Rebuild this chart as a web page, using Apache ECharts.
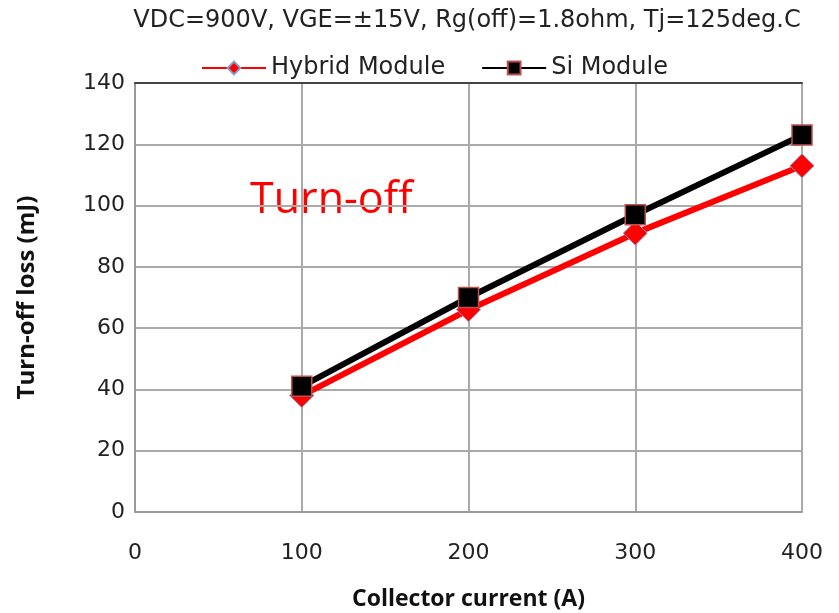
<!DOCTYPE html>
<html>
<head>
<meta charset="utf-8">
<script src="https://cdn.jsdelivr.net/npm/echarts@6/dist/echarts.min.js"></script>
<style>
  html, body { margin: 0; padding: 0; background: #fff; }
  #chart { width: 839px; height: 613px; }
</style>
</head>
<body>
<div id="chart"></div>
<script>
// collector current (A)
var currents = [100, 200, 300, 400];
// turn-off loss (mJ)
var hybridLoss = [38, 66, 91, 113];
var siLoss = [41, 70, 97, 123];
var xTicks = [0, 100, 200, 300, 400];
var yTicks = [0, 20, 40, 60, 80, 100, 120, 140];

var chartDom = document.getElementById('chart');
var myChart = echarts.init(chartDom);
var tickFont = 'DejaVu Sans';

function pairs(xs, ys) {
    return xs.map(function (x, i) { return [x, ys[i]]; });
}

var option = {
    animation: false,
    backgroundColor: '#fff',
    title: {
        text: 'VDC=900V, VGE=\u00b115V, Rg(off)=1.8ohm, Tj=125deg.C',
        left: 462,
        textAlign: 'center',
        top: 4,
        textStyle: { fontFamily: tickFont, fontSize: 24, fontWeight: 'normal', color: '#222' }
    },
    legend: {
        top: 51,
        left: 196,
        itemWidth: 64,
        itemHeight: 16,
        itemGap: 36,
        textStyle: { fontFamily: tickFont, fontSize: 24, color: '#222' },
        data: ['Hybrid Module', 'Si Module']
    },
    grid: {
        left: 135, right: 37, top: 83, bottom: 101,
        outerBoundsMode: 'none',
        show: true, borderColor: '#999', borderWidth: 1
    },
    xAxis: [{
        type: 'value',
        min: xTicks[0], max: xTicks[xTicks.length - 1], interval: 100,
        name: 'Collector current (A)',
        nameLocation: 'middle',
        nameGap: 76,
        nameTextStyle: { fontFamily: 'Open Sans', fontWeight: 'bold', fontSize: 23, color: '#111' },
        axisLine: { show: true, lineStyle: { color: '#999', width: 2 } },
        axisTick: { show: false },
        splitLine: { show: true, lineStyle: { color: '#aaa', width: 2 } },
        axisLabel: { fontFamily: tickFont, fontSize: 22, color: '#222', margin: 30 }
    }, {
        type: 'value', position: 'top',
        min: xTicks[0], max: xTicks[xTicks.length - 1],
        axisLine: { show: true, lineStyle: { color: '#444', width: 2 } },
        axisTick: { show: false }, axisLabel: { show: false }, splitLine: { show: false }
    }],
    yAxis: {
        type: 'value',
        min: yTicks[0], max: yTicks[yTicks.length - 1], interval: 20,
        name: 'Turn-off loss (mJ)',
        nameLocation: 'middle',
        nameGap: 96,
        nameTextStyle: { fontFamily: 'Open Sans', fontWeight: 'bold', fontSize: 24, color: '#111' },
        axisLine: { show: true, lineStyle: { color: '#999', width: 2 } },
        axisTick: { show: false },
        splitLine: { show: true, lineStyle: { color: '#aaa', width: 2 } },
        axisLabel: { fontFamily: tickFont, fontSize: 22, color: '#222', margin: 10 }
    },
    graphic: [{
        type: 'text',
        left: 250, top: 179,
        style: { text: 'Turn-off', fill: '#ff0000', font: '43px "Open Sans"' }
    }],
    series: [{
        name: 'Si Module',
        type: 'line',
        data: pairs(currents, siLoss),
        symbol: 'rect',
        symbolSize: 20,
        lineStyle: { color: '#000', width: 6 },
        itemStyle: { color: '#000', borderColor: '#c0504d', borderWidth: 1.5 },
        z: 3
    }, {
        name: 'Hybrid Module',
        type: 'line',
        data: pairs(currents, hybridLoss),
        symbol: 'diamond',
        symbolSize: 24,
        lineStyle: { color: '#ff0000', width: 6 },
        itemStyle: { color: '#ff0000', borderColor: '#7f9fd0', borderWidth: 1 },
        z: 2
    }]
};

option && myChart.setOption(option);
</script>
</body>
</html>
